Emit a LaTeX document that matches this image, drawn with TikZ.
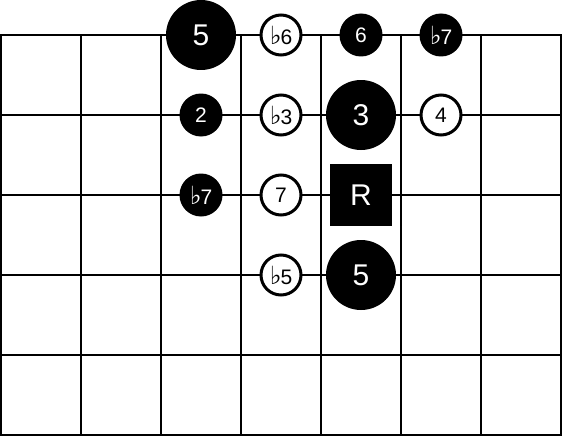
\documentclass[tikz,border=0pt]{standalone}
\usepackage{fontspec}
\setmainfont{Liberation Sans}
\newfontfamily\dejavufont{DejaVu Sans}
\newcommand{\flatsym}{{\dejavufont\fontsize{25}{25}\selectfont ♭}\kern-1pt}
\begin{document}
\begin{tikzpicture}[x=1pt,y=-1pt,
  gridline/.style={line width=2pt,black},
  bignote/.style={circle,fill=black,text=white,minimum size=70pt,inner sep=0pt,font=\fontsize{30}{30}\selectfont},
  smallnote/.style={circle,fill=black,text=white,minimum size=43pt,inner sep=0pt,font=\fontsize{21}{21}\selectfont},
  whitenote/.style={circle,draw=black,line width=3pt,fill=white,text=black,minimum size=40pt,inner sep=0pt,font=\fontsize{21}{21}\selectfont},
  rootnote/.style={rectangle,fill=black,text=white,minimum size=62pt,inner sep=0pt,font=\fontsize{30}{30}\selectfont}]
\useasboundingbox (0,0) rectangle (562,436);
\fill[white] (0,0) rectangle (562,436);
\foreach \x in {1,81,161,241,321,401,481,561}
  \draw[gridline] (\x,34.5) -- (\x,434.5);
\foreach \y in {35,115,195,275,355,434.5}
  \draw[gridline] (0,\y) -- (562,\y);
\node[bignote] (n5a) at (201,35) {5};
\node[whitenote] (nb6) at (281,35) {\flatsym6};
\node[smallnote] (n6) at (361,35) {6};
\node[smallnote] (nb7a) at (441,35) {\flatsym7};
\node[smallnote] (n2) at (201,115) {2};
\node[whitenote] (nb3) at (281,115) {\flatsym3};
\node[bignote] (n3) at (361,115) {3};
\node[whitenote] (n4) at (441,115) {4};
\node[smallnote] (nb7b) at (201,195) {\flatsym7};
\node[whitenote] (n7) at (281,195) {7};
\node[rootnote] (nR) at (361,195) {R};
\node[whitenote] (nb5) at (281,275) {\flatsym5};
\node[bignote] (n5b) at (361,275) {5};
\end{tikzpicture}
\end{document}
